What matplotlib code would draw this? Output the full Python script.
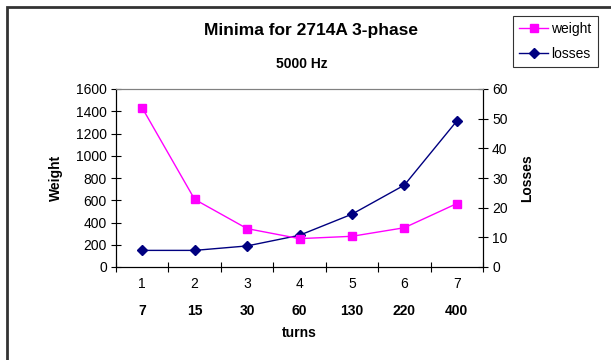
import matplotlib
matplotlib.use('Agg')
import matplotlib.pyplot as plt
from matplotlib.patches import Rectangle
from matplotlib.lines import Line2D

plt.rcParams['font.family'] = ['Liberation Sans', 'DejaVu Sans']

index_labels = ['1', '2', '3', '4', '5', '6', '7']
turns = ['7', '15', '30', '60', '130', '220', '400']
weight = [1430, 608, 345, 255, 276, 353, 570]
losses = [5.6, 5.6, 7.1, 10.7, 17.8, 27.6, 49.2]

fig = plt.figure(figsize=(6.11, 3.60), dpi=100)
ax = fig.add_axes([116/611, 1 - 267/360, 367/611, 178/360])
ax2 = ax.twinx()

x = list(range(len(weight)))
ax2.plot(x, losses, color='#000080', lw=1, marker='D', ms=5,
         label='losses', zorder=3)
ax.plot(x, weight, color='#FF00FF', lw=1, marker='s', ms=6, label='weight',
        zorder=3)
ax.set_zorder(ax2.get_zorder() + 1)
ax.patch.set_visible(False)
ax2.patch.set_facecolor('#C0C0C0')

ax.set_xlim(-0.5, 6.5)
ax.set_ylim(0, 1600)
ax2.set_ylim(0, 60)
ax.set_yticks(range(0, 1601, 200))
ax2.set_yticks(range(0, 61, 10))

# category boundaries get the tick marks, centres get the labels
ax.set_xticks([i - 0.5 for i in range(len(x) + 1)])
ax.set_xticklabels([])
ax.set_xticks(x, minor=True)
ax.set_xticklabels(index_labels, minor=True)
ax.tick_params(axis='x', which='minor', length=0, pad=7, labelsize=10)
ax.tick_params(axis='x', which='major', direction='inout', length=7)
ax.tick_params(axis='y', direction='inout', length=7, labelsize=10, pad=3)
ax2.tick_params(axis='y', direction='inout', length=7, labelsize=10, pad=3)

for i, t in enumerate(turns):
    ax.text(i, -0.247, t, transform=ax.get_xaxis_transform(), ha='center',
            va='center', fontsize=10, fontweight='bold')
ax.text(0.5, -0.37, 'turns', transform=ax.transAxes, ha='center',
        va='center', fontsize=10, fontweight='bold')

ax.set_ylabel('Weight', fontsize=10, fontweight='bold', labelpad=9)
ax2.set_ylabel('Losses', fontsize=10, fontweight='bold', labelpad=9)

for a in (ax, ax2):
    a.spines['top'].set_color('#808080')
    a.spines['left'].set_color('black')
    a.spines['right'].set_color('black')
    a.spines['bottom'].set_color('black')

fig.text(311/611, 1 - 31/360, 'Minima for 2714A 3-phase', ha='center',
         va='center', fontsize=12.5, fontweight='bold')
fig.text(302/611, 1 - 64/360, '5000 Hz', ha='center', va='center',
         fontsize=10, fontweight='bold')

handles = [Line2D([], [], color='#FF00FF', marker='s', ms=6, lw=1),
           Line2D([], [], color='#000080', marker='D', ms=5, lw=1)]
leg = fig.legend(handles, ['weight', 'losses'], loc='upper left',
                 bbox_to_anchor=(513/611, 1 - 16/360), fontsize=10,
                 frameon=True, fancybox=False, borderpad=0.45,
                 handlelength=2.1, handletextpad=0.2, labelspacing=0.75,
                 borderaxespad=0)
leg.get_frame().set_edgecolor('black')
leg.get_frame().set_linewidth(0.8)

fig.patches.append(Rectangle((7/611, -0.5), 2, 1.5 - 7/360,
                             transform=fig.transFigure, fill=False,
                             ec='#333333', lw=2, clip_on=False))

fig.savefig('out.png', dpi=100)
